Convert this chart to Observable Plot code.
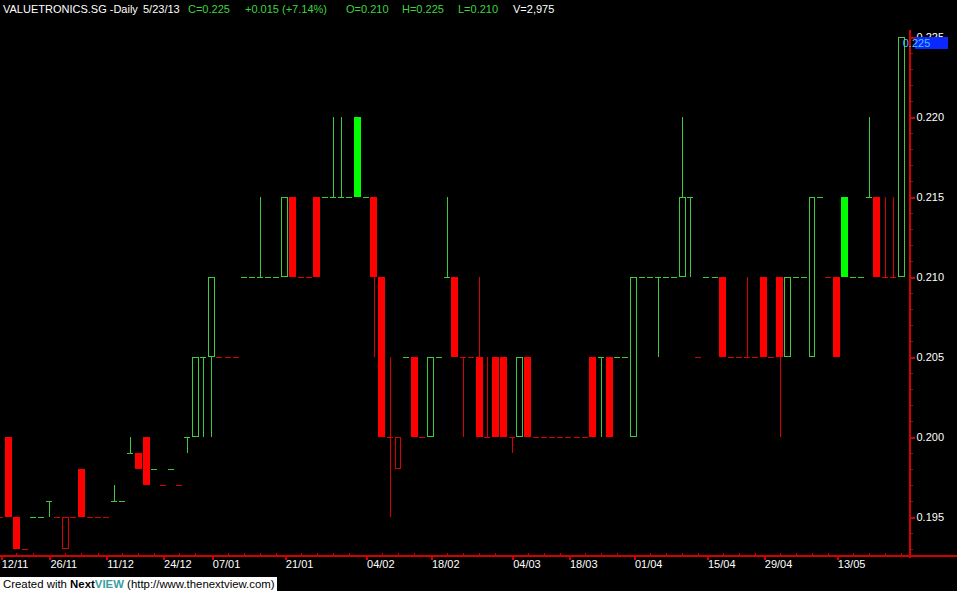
<!DOCTYPE html>
<html><head><meta charset="utf-8">
<script src="https://cdn.jsdelivr.net/npm/d3@7"></script>
<script src="https://cdn.jsdelivr.net/npm/@observablehq/plot@0.6"></script>
<style>
html,body{margin:0;padding:0;background:#000;}
#wrap{position:relative;width:957px;height:591px;overflow:hidden;background:#000;font-family:"Liberation Sans",Arial,sans-serif;font-size:11px;}
#chart svg{position:absolute;left:0;top:0;}
#chart svg line,#chart svg rect,#chart svg path{shape-rendering:crispEdges;}
.hdr{position:absolute;top:3px;white-space:pre;line-height:13px;}
.w{color:#fff}.g{color:#3fd43f}
#credit{position:absolute;left:0;top:577px;width:277px;height:14px;background:#fff;color:#000;line-height:14px;padding-left:3px;box-sizing:border-box;white-space:nowrap;font-size:11.4px;}
</style></head>
<body><div id="wrap"><div id="chart"></div>
<span class="hdr w" id="hName" style="left:3px"></span>
<span class="hdr w" id="hDate" style="left:143px"></span>
<span class="hdr g" id="hC" style="left:188px"></span>
<span class="hdr g" id="hChg" style="left:245px"></span>
<span class="hdr g" id="hO" style="left:346px"></span>
<span class="hdr g" id="hH" style="left:402px"></span>
<span class="hdr g" id="hL" style="left:458px"></span>
<span class="hdr w" id="hV" style="left:513px"></span>
<div id="credit">Created with <b>Next</b><b style="color:#3a9ea0">VIEW</b> (http://www.thenextview.com)</div>
</div>
<script>
// ---- data (one entry per trading session shown) ----
const symbol = "VALUETRONICS.SG -Daily";
const lastDate = "5/23/13";
const lastVolume = 2975;
const open = [
 .195,.200,.195,.193,.195,.195,.196,.195,.193,.195,
 .198,.195,.195,.195,.196,.196,.199,.199,.200,.198,
 .197,.198,.197,.200,.200,.205,.205,.205,.205,.205,
 .210,.210,.210,.210,.210,.210,.215,.210,.210,.215,
 .215,.215,.215,.215,.220,.215,.215,.210,.200,.198,
 .205,.205,.200,.200,.205,.210,.210,.205,.205,.205,
 .200,.205,.205,.200,.200,.205,.200,.200,.200,.200,
 .200,.200,.200,.205,.205,.205,.205,.205,.200,.210,
 .210,.210,.210,.210,.210,.215,.205,.210,.210,.210,
 .205,.205,.205,.205,.210,.205,.210,.205,.210,.210,
 .205,.215,.210,.210,.215,.210,.210,.215,.215,.210,
 .210,.210];
const high = [
 .195,.200,.195,.193,.195,.195,.196,.195,.195,.195,
 .198,.195,.195,.195,.197,.196,.200,.199,.200,.198,
 .197,.198,.197,.200,.205,.205,.210,.205,.205,.205,
 .210,.210,.215,.210,.210,.215,.215,.210,.210,.215,
 .215,.220,.220,.215,.220,.215,.215,.210,.205,.200,
 .205,.205,.200,.205,.205,.215,.210,.205,.205,.210,
 .205,.205,.205,.200,.205,.205,.200,.200,.200,.200,
 .200,.200,.200,.205,.205,.205,.205,.205,.210,.210,
 .210,.210,.210,.210,.220,.215,.205,.210,.210,.210,
 .205,.205,.210,.205,.210,.205,.210,.210,.210,.210,
 .215,.215,.210,.210,.215,.210,.210,.220,.215,.215,
 .215,.225];
const low = [
 .195,.195,.193,.193,.195,.195,.195,.195,.193,.195,
 .195,.195,.195,.195,.196,.196,.199,.198,.197,.198,
 .197,.198,.197,.199,.200,.200,.200,.205,.205,.205,
 .210,.210,.210,.210,.210,.210,.210,.210,.210,.210,
 .215,.215,.215,.215,.215,.215,.205,.200,.195,.198,
 .205,.200,.200,.200,.205,.210,.205,.200,.205,.200,
 .200,.200,.200,.199,.200,.200,.200,.200,.200,.200,
 .200,.200,.200,.200,.200,.200,.205,.205,.200,.210,
 .210,.205,.210,.210,.210,.210,.205,.210,.210,.205,
 .205,.205,.205,.205,.205,.205,.200,.205,.210,.210,
 .205,.215,.210,.205,.210,.210,.210,.215,.210,.210,
 .210,.210];
const close = [
 .195,.195,.193,.193,.195,.195,.196,.195,.195,.195,
 .195,.195,.195,.195,.196,.196,.199,.198,.197,.198,
 .197,.198,.197,.200,.205,.205,.210,.205,.205,.205,
 .210,.210,.210,.210,.210,.215,.210,.210,.210,.210,
 .215,.215,.215,.215,.215,.215,.210,.200,.200,.200,
 .205,.200,.200,.205,.205,.210,.205,.205,.205,.200,
 .200,.200,.200,.200,.205,.200,.200,.200,.200,.200,
 .200,.200,.200,.200,.205,.200,.205,.205,.210,.210,
 .210,.210,.210,.210,.215,.215,.205,.210,.210,.205,
 .205,.205,.205,.205,.205,.205,.205,.210,.210,.210,
 .215,.215,.210,.205,.210,.210,.210,.215,.210,.210,
 .210,.225];
// x-axis date ticks (session index -> label)
const tickIdx = [0, 6, 13, 20, 26, 35, 45, 53, 63, 70, 78, 87, 94, 103];
const tickLabels = ["12/11","26/11","11/12","24/12","07/01","21/01","04/02","18/02","04/03","18/03","01/04","15/04","29/04","13/05"];
// price axis labels
const priceTicks = [0.195, 0.200, 0.205, 0.210, 0.215, 0.220, 0.225];

// ---- styling ----
const axisRed = "#d40000";
const lineColor = {up: "#3ccc3c", down: "#d80000"};
const fillColor = {up: "#00ff00", down: "#ff0000"};

// ---- build candles ----
const candles = [];
let dir = "down";
for (let i = 0; i < close.length; i++) {
  if (i > 0) {
    if (close[i] > close[i-1]) dir = "up";
    else if (close[i] < close[i-1]) dir = "down";
  }
  candles.push({i, open: open[i], high: high[i], low: low[i], close: close[i], dir});
}
const n = candles.length;
const labelOf = new Map(tickIdx.map((t, k) => [t, tickLabels[k]]));
const minorX = [];
for (let k = 0; k < tickIdx.length; k++) {
  const end = k + 1 < tickIdx.length ? tickIdx[k+1] : n;
  for (let t = tickIdx[k] + 2; t < end; t += 2) minorX.push(t);
}
const minorY = d3.range(193, 226).map(v => v / 1000);

const xDomain = [-0.03, 111.95];
const yDomain = [0.1925625, 0.2254375];
const bw = 0.43, dw = 0.37;

const chart = Plot.plot({
  width: 957, height: 591,
  marginLeft: 0, marginRight: 48, marginTop: 30, marginBottom: 35,
  style: {background: "#000", color: "#fff", fontFamily: "'Liberation Sans', Arial, sans-serif", fontSize: "11px"},
  x: {type: "linear", domain: xDomain, axis: null, label: null},
  y: {domain: yDomain, axis: null, label: null},
  marks: [
    Plot.ruleX(candles.filter(d => d.high > d.low), {x: "i", y1: "low", y2: "high", stroke: d => lineColor[d.dir], strokeWidth: 1}),
    Plot.rect(candles.filter(d => d.close < d.open), {x1: d => d.i - bw, x2: d => d.i + bw, y1: "open", y2: "close", fill: d => fillColor[d.dir]}),
    Plot.rect(candles.filter(d => d.close > d.open), {x1: d => d.i - bw, x2: d => d.i + bw, y1: "open", y2: "close", fill: "#000", stroke: d => lineColor[d.dir], strokeWidth: 1, inset: 0.5}),
    Plot.ruleY(candles.filter(d => d.close === d.open), {y: "close", x1: d => d.i - dw, x2: d => d.i + dw, stroke: d => lineColor[d.dir], strokeWidth: 1}),
    Plot.frame({anchor: "right", stroke: axisRed, strokeWidth: 2}),
    Plot.axisY(minorY, {anchor: "right", label: null, tickSize: 3, tickFormat: () => "", stroke: axisRed}),
    Plot.axisY(priceTicks, {anchor: "right", label: null, tickSize: 5, tickPadding: 2, tickFormat: d3.format(".3f"), stroke: axisRed, strokeWidth: 2, fill: "#fff"}),
    Plot.axisX(minorX, {anchor: "bottom", label: null, tickSize: 3, dy: -3, tickFormat: () => "", stroke: axisRed}),
    Plot.axisX(tickIdx, {anchor: "bottom", label: null, tickSize: 4, tickPadding: 0, tickFormat: d => labelOf.get(d), textAnchor: "start", dx: 1, stroke: axisRed, strokeWidth: 2, fill: "#fff"})
  ]
});
document.getElementById("chart").appendChild(chart);

// bottom axis line across full width, and last price highlight
const ys = chart.scale("y");
const svg = d3.select(chart);
const yb = ys.apply(yDomain[0]);
svg.append("line").attr("x1", 0).attr("x2", 957).attr("y1", yb).attr("y2", yb)
  .attr("stroke", axisRed).attr("stroke-width", 2);
const last = candles[n - 1], prev = candles[n - 2];
const yl = ys.apply(last.close);
svg.append("rect").attr("x", 915).attr("y", Math.round(yl)).attr("width", 33).attr("height", 12).attr("fill", "#0a28ff");
svg.append("text").attr("x", 916.5).attr("y", Math.round(yl) + 6).attr("dy", "0.35em")
  .attr("fill", "#46c8ff").attr("font-size", 11).text(d3.format(".3f")(last.close));

// header
const chg = last.close - prev.close;
document.getElementById("hName").textContent = symbol;
document.getElementById("hDate").textContent = lastDate;
document.getElementById("hC").textContent = "C=" + last.close.toFixed(3);
document.getElementById("hChg").textContent = (chg >= 0 ? "+" : "") + chg.toFixed(3) + " (" + (chg >= 0 ? "+" : "") + (chg / prev.close * 100).toFixed(2) + "%)";
document.getElementById("hO").textContent = "O=" + last.open.toFixed(3);
document.getElementById("hH").textContent = "H=" + last.high.toFixed(3);
document.getElementById("hL").textContent = "L=" + last.low.toFixed(3);
document.getElementById("hV").textContent = "V=" + d3.format(",")(lastVolume);
</script>
</body></html>
